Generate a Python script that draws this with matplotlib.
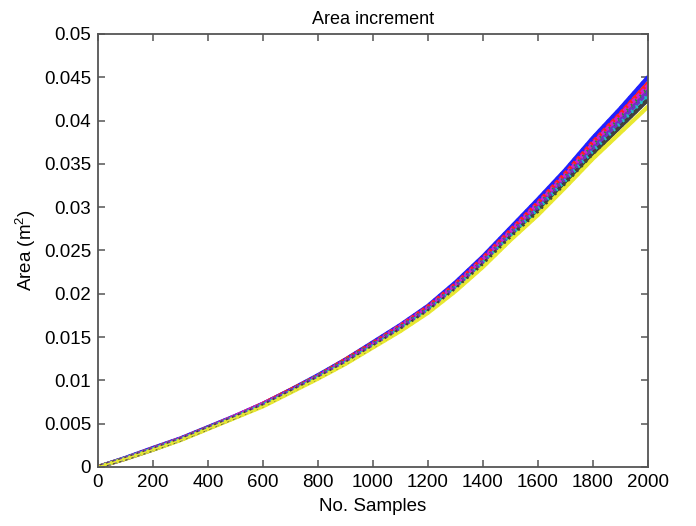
import matplotlib
matplotlib.use("Agg")
import matplotlib.pyplot as plt
from matplotlib.ticker import FuncFormatter

plt.rcParams['font.family'] = ['Liberation Sans', 'DejaVu Sans']
plt.rcParams['mathtext.fontset'] = 'custom'
plt.rcParams['mathtext.rm'] = 'Liberation Sans'
plt.rcParams['mathtext.it'] = 'Liberation Sans'
plt.rcParams['lines.scale_dashes'] = False

# samples, every 100
samples = [0, 100, 200, 300, 400, 500, 600, 700, 800, 900, 1000,
           1100, 1200, 1300, 1400, 1500, 1600, 1700, 1800, 1900, 2000]

# area curves (m^2)
area_blue = [0, 0.00105, 0.0022, 0.0033, 0.0046, 0.0059, 0.0073, 0.0089, 0.0106, 0.0124, 0.0144,
             0.0164, 0.0186, 0.0213, 0.0243, 0.0276, 0.0309, 0.0343, 0.0380, 0.0414, 0.0450]
area_red = [0, 0.0010, 0.00215, 0.00325, 0.00455, 0.00585, 0.0073, 0.0089, 0.0105, 0.0124, 0.0143,
            0.0163, 0.0185, 0.0211, 0.0241, 0.0273, 0.0305, 0.0339, 0.0375, 0.0408, 0.0443]
area_green = [0, 0.0010, 0.0021, 0.0032, 0.0045, 0.0058, 0.0072, 0.0088, 0.0105, 0.0123, 0.0142,
              0.0162, 0.0183, 0.0209, 0.0238, 0.0270, 0.0302, 0.0335, 0.0371, 0.0403, 0.0437]
area_magenta = [0, 0.0010, 0.0021, 0.00325, 0.0045, 0.0059, 0.0073, 0.0088, 0.0105, 0.0123, 0.0142,
                0.0163, 0.0184, 0.0210, 0.0240, 0.0272, 0.0304, 0.0337, 0.0373, 0.0406, 0.0440]
area_cyan = [0, 0.0010, 0.0021, 0.0032, 0.0045, 0.0058, 0.0072, 0.0087, 0.0104, 0.0121, 0.0140,
             0.0160, 0.0181, 0.0207, 0.0236, 0.0267, 0.0298, 0.0331, 0.0365, 0.0397, 0.0429]
area_purple = [0, 0.0010, 0.0021, 0.0032, 0.0045, 0.0058, 0.0072, 0.0088, 0.0104, 0.0122, 0.0141,
               0.0161, 0.0182, 0.0208, 0.0237, 0.0269, 0.0300, 0.0333, 0.0368, 0.0400, 0.0433]
area_black = [0, 0.00095, 0.0020, 0.00315, 0.00445, 0.00575, 0.0071, 0.0087, 0.0103, 0.0120, 0.0139,
              0.0159, 0.0180, 0.0205, 0.0234, 0.0265, 0.0295, 0.0328, 0.0362, 0.0393, 0.0424]
area_yellow = [0, 0.00095, 0.0020, 0.0031, 0.0044, 0.0057, 0.0070, 0.0086, 0.0102, 0.0119, 0.0138,
               0.0157, 0.0178, 0.0203, 0.0231, 0.0262, 0.0291, 0.0323, 0.0356, 0.0386, 0.0416]

curves = [
    (area_blue, '#2020ff'),
    (area_red, '#ff2020'),
    (area_green, '#20a020'),
    (area_magenta, '#d020d0'),
    (area_cyan, '#20c0c0'),
    (area_purple, '#7030c8'),
    (area_black, '#404040'),
    (area_yellow, '#e8e830'),
]

fig = plt.figure(figsize=(6.96, 5.26), dpi=100)
ax = fig.add_axes([0.1408, 0.1122, 0.790, 0.8232])

# solid band first, then short dashes on top for the mottled look
for vals, col in curves:
    ax.plot(samples, vals, color=col, linewidth=3.0, solid_capstyle='round')
for i, (vals, col) in enumerate(curves):
    ax.plot(samples, vals, color=col, linewidth=2.6,
            linestyle=(i * 1.3, (1.6, 3.0)), dash_capstyle='butt')
ax.plot(samples, area_yellow, color='#e8e830', linewidth=1.2)

ax.set_xlim(0, 2000)
ax.set_ylim(0, 0.05)
ax.set_xticks(range(0, 2001, 200))
ax.set_yticks([i * 0.005 for i in range(11)])
ax.yaxis.set_major_formatter(FuncFormatter(lambda v, p: '%g' % round(v, 4)))

for s in ax.spines.values():
    s.set_color('#555555')
    s.set_linewidth(1.3)
ax.tick_params(direction='in', length=5, width=1.1, color='#555555',
               top=True, right=True, labelsize=13.5, pad=5)

ax.set_title('Area increment', fontsize=13, pad=7)
ax.set_xlabel('No. Samples', fontsize=13.5, labelpad=5)
ax.set_ylabel('Area (m$^{2}$)', fontsize=13.5, labelpad=4)

fig.savefig('out.png', dpi=100)
